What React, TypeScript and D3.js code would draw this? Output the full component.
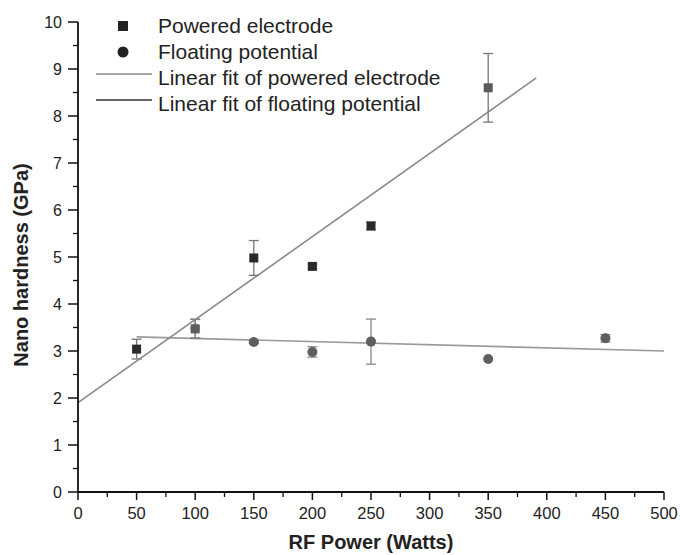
import React from "react";
import * as d3 from "d3";

const xTicks = [0, 50, 100, 150, 200, 250, 300, 350, 400, 450, 500];
const yTicks = [0, 1, 2, 3, 4, 5, 6, 7, 8, 9, 10];

const poweredX = [50, 100, 150, 200, 250, 350];
const poweredY = [3.04, 3.47, 4.98, 4.8, 5.66, 8.6];
const poweredErr = [0.21, 0.2, 0.37, 0.05, 0.08, 0.73];

const floatingX = [100, 150, 200, 250, 350, 450];
const floatingY = [3.48, 3.19, 2.98, 3.2, 2.83, 3.27];
const floatingErr = [0.2, 0.03, 0.11, 0.48, 0.0, 0.08];

const poweredFitX = [0, 391];
const poweredFitY = [1.9, 8.81];
const floatingFitX = [50, 500];
const floatingFitY = [3.3, 3.0];

const legendLabels = [
  "Powered electrode",
  "Floating potential",
  "Linear fit of powered electrode",
  "Linear fit of floating potential",
];

const W = 680;
const H = 555;
const FONT = "'Liberation Sans', Arial, Helvetica, sans-serif";

export default function App() {
  const x = d3.scaleLinear().domain([0, 500]).range([78, 664]);
  const y = d3.scaleLinear().domain([0, 10]).range([492, 22]);

  const line = d3
    .line<[number, number]>()
    .x((d) => x(d[0]))
    .y((d) => y(d[1]));

  const pFit: [number, number][] = poweredFitX.map((v, i) => [v, poweredFitY[i]]);
  const fFit: [number, number][] = floatingFitX.map((v, i) => [v, floatingFitY[i]]);

  const xMinor = d3.range(25, 500, 50);
  const yMinor = d3.range(0.5, 10, 1);

  const errBar = (cx: number, cy: number, e: number, key: string, color: string) => {
    if (e <= 0) return null;
    const px = x(cx);
    const t = y(cy + e);
    const b = y(cy - e);
    return (
      <g key={key} stroke={color} strokeWidth={1.3}>
        <line x1={px} x2={px} y1={t} y2={b} />
        <line x1={px - 5} x2={px + 5} y1={t} y2={t} />
        <line x1={px - 5} x2={px + 5} y1={b} y2={b} />
      </g>
    );
  };

  const legendY = [28, 54, 80, 106];

  return (
    <svg
      width={W}
      height={H}
      style={{ position: "absolute", left: 0, top: 0, background: "#fff" }}
      fontFamily={FONT}
    >
      {/* fit lines */}
      <path d={line(fFit) || ""} stroke="#9a9a9a" strokeWidth={1.6} fill="none" />
      <path d={line(pFit) || ""} stroke="#8a8a8a" strokeWidth={1.6} fill="none" />

      {/* error bars */}
      {poweredX.map((v, i) => errBar(v, poweredY[i], poweredErr[i], "pe" + i, "#777"))}
      {floatingX.map((v, i) => errBar(v, floatingY[i], floatingErr[i], "fe" + i, "#888"))}

      {/* powered squares */}
      {poweredX.map((v, i) => (
        <rect
          key={"p" + i}
          x={x(v) - 4.5}
          y={y(poweredY[i]) - 4.5}
          width={9}
          height={9}
          fill={v === 350 || v === 100 ? "#5a5a5a" : "#2a2a2a"}
        />
      ))}
      {/* floating circles */}
      {floatingX.map((v, i) => (
        <circle
          key={"f" + i}
          cx={x(v)}
          cy={y(floatingY[i])}
          r={5}
          fill="#5e5e5e"
          fillOpacity={v === 100 ? 0.55 : 1}
        />
      ))}

      {/* axes */}
      <line x1={78} x2={78} y1={y(10)} y2={y(0)} stroke="#111" strokeWidth={1.8} />
      <line x1={78} x2={x(500)} y1={y(0)} y2={y(0)} stroke="#111" strokeWidth={1.8} />
      {yTicks.map((t) => (
        <g key={"yt" + t}>
          <line x1={68} x2={78} y1={y(t)} y2={y(t)} stroke="#111" strokeWidth={1.5} />
          <text
            x={62}
            y={y(t)}
            dy="0.35em"
            textAnchor="end"
            fontSize={16}
            fill="#222"
          >
            {t}
          </text>
        </g>
      ))}
      {yMinor.map((t) => (
        <line key={"ym" + t} x1={73} x2={78} y1={y(t)} y2={y(t)} stroke="#111" strokeWidth={1.3} />
      ))}
      {xTicks.map((t) => (
        <g key={"xt" + t}>
          <line x1={x(t)} x2={x(t)} y1={y(0)} y2={y(0) + 8} stroke="#111" strokeWidth={1.5} />
          <text x={x(t)} y={519} textAnchor="middle" fontSize={16.5} fill="#222">
            {t}
          </text>
        </g>
      ))}
      {xMinor.map((t) => (
        <line key={"xm" + t} x1={x(t)} x2={x(t)} y1={y(0)} y2={y(0) + 5} stroke="#111" strokeWidth={1.3} />
      ))}

      {/* axis titles */}
      <text x={371} y={549} textAnchor="middle" fontSize={20} fontWeight="bold" fill="#222">
        RF Power (Watts)
      </text>
      <text
        transform={`translate(28,265) rotate(-90)`}
        textAnchor="middle"
        fontSize={20}
        fontWeight="bold"
        fill="#222"
      >
        Nano hardness (GPa)
      </text>

      {/* legend */}
      <rect x={118} y={legendY[0] - 7} width={10} height={10} fill="#222" />
      <circle cx={123} cy={legendY[1] - 2} r={5.5} fill="#222" />
      <line x1={96} x2={152} y1={legendY[2] - 6} y2={legendY[2] - 6} stroke="#888" strokeWidth={1.5} />
      <line x1={96} x2={152} y1={legendY[3] - 6} y2={legendY[3] - 6} stroke="#333" strokeWidth={1.3} />
      {legendLabels.map((l, i) => (
        <text key={"lg" + i} x={158} y={legendY[i] + 5} fontSize={21} fill="#222">
          {l}
        </text>
      ))}
    </svg>
  );
}
